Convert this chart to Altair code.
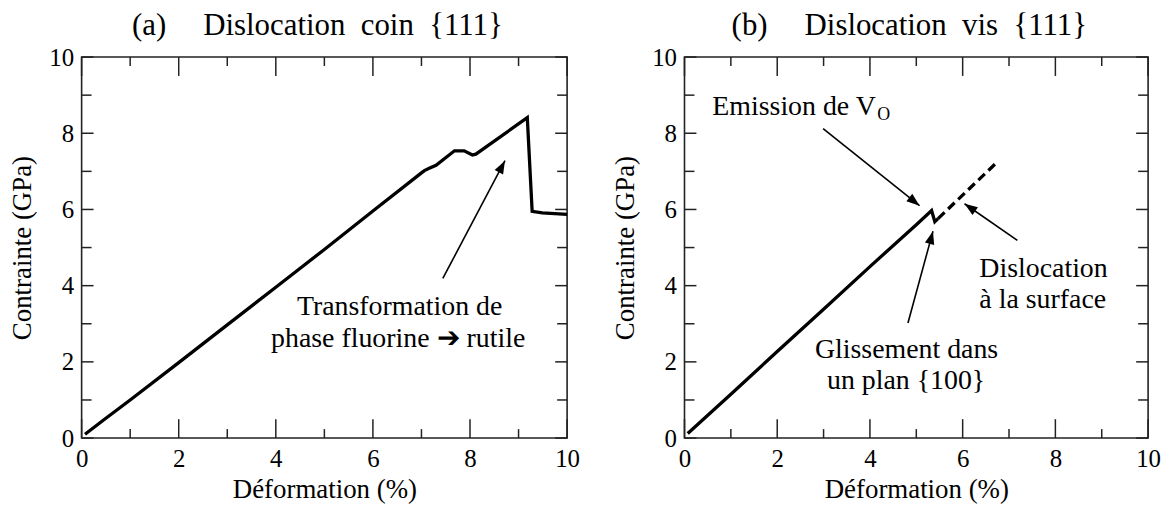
import altair as alt
import pandas as pd
import numpy as np

FONT = "Liberation Serif"
W_A, W_B, H = 488, 466, 383
FRAME = "#222222"

major_ticks = [0, 2, 4, 6, 8, 10]
minor_ticks = [1, 3, 5, 7, 9]

# Panel (a) : Dislocation coin {111}
a_x = [0.07, 0.5, 1, 2, 3, 4, 5, 6, 7, 7.06, 7.16, 7.3, 7.68, 7.88, 8.05, 8.12, 9.18, 9.28, 9.49, 10]
a_y = [0.10, 0.52, 1.0, 1.98, 2.97, 3.96, 4.95, 5.96, 6.96, 7.02, 7.08, 7.16, 7.54, 7.54, 7.43, 7.45, 8.41, 5.95, 5.91, 5.87]

# Panel (b) : Dislocation vis {111}
b_solid_x = [0.07, 1, 2, 3, 4, 5, 5.33, 5.40, 5.47]
b_solid_y = [0.12, 1.15, 2.27, 3.38, 4.50, 5.60, 5.97, 5.68, 5.76]
b_dash_x = [5.47, 6.75]
b_dash_y = [5.76, 7.25]

# arrows (tail -> head)
a_arrow_tx, a_arrow_ty = [7.44], [4.19]
a_arrow_hx, a_arrow_hy = [8.72], [7.28]
b_arrow_tx = [2.99, 4.82, 7.18]
b_arrow_ty = [8.12, 3.02, 5.19]
b_arrow_hx = [5.07, 5.36, 6.04]
b_arrow_hy = [6.10, 5.43, 6.15]

# annotations
a_text_c = ["Transformation de", "phase fluorine \u2794 rutile"]
a_text_c_x = [6.55, 6.52]
a_text_c_y = [3.24, 2.40]

b_text_l = ["Emission de V", "Dislocation", "\u00e0 la surface"]
b_text_l_x = [0.60, 6.36, 6.36]
b_text_l_y = [8.49, 4.23, 3.41]
b_text_c = ["Glissement dans", "un plan {100}"]
b_text_c_x = [4.79, 4.78]
b_text_c_y = [2.09, 1.30]
b_sub = ["O"]
b_sub_x = [4.16]
b_sub_y = [8.36]

xs = alt.Scale(domain=[0, 10], nice=False, zero=False)
ys = alt.Scale(domain=[0, 10], nice=False, zero=False)

XA = alt.Axis(values=major_ticks, title="D\u00e9formation (%)", domain=False, ticks=False, grid=False,
              labelFlush=False, labelOverlap=False, labelPadding=9, titlePadding=5)
YA = alt.Axis(values=major_ticks, title="Contrainte (GPa)", domain=False, ticks=False, grid=False,
              labelFlush=False, labelOverlap=False, labelPadding=8, titlePadding=12)

ARROW_PATH = "M0,0 L-0.42,1.15 L0.42,1.15 Z"


def X(field):
    return alt.X(field, type="quantitative", scale=xs, axis=XA)


def Y(field):
    return alt.Y(field, type="quantitative", scale=ys, axis=YA)


def tick_layers(width):
    layers = []
    for vals, xlen, ylen in [(major_ticks, 19, 12), (minor_ticks, 9, 10)]:
        d = pd.DataFrame({"v": vals})
        b = alt.Chart(d).mark_rule(color=FRAME, strokeWidth=1.5)
        layers.append(b.encode(x=X("v"), y=alt.value(H), y2=alt.value(H - xlen)))
        layers.append(b.encode(x=X("v"), y=alt.value(0), y2=alt.value(xlen)))
        layers.append(b.encode(y=Y("v"), x=alt.value(0), x2=alt.value(ylen)))
        layers.append(b.encode(y=Y("v"), x=alt.value(width), x2=alt.value(width - ylen)))
    return layers


def arrow_layers(width, tx, ty, hx, hy):
    tx, ty, hx, hy = map(np.array, (tx, ty, hx, hy))
    ang = np.degrees(np.arctan2((hx - tx) * width / 10.0, (hy - ty) * H / 10.0)) % 360
    d = pd.DataFrame({"tx": tx, "ty": ty, "hx": hx, "hy": hy, "ang": ang})
    line = alt.Chart(d).mark_rule(color="black", strokeWidth=1.6).encode(
        x=X("tx"), y=Y("ty"), x2="hx:Q", y2="hy:Q")
    head = alt.Chart(d).mark_point(shape=ARROW_PATH, filled=True, size=520, color="black", opacity=1,
                                   strokeWidth=0).encode(
        x=X("hx"), y=Y("hy"), angle=alt.Angle("ang:Q", scale=None))
    return [line, head]


def text_layer(labels, x, y, align, size=28):
    d = pd.DataFrame({"t": labels, "x": x, "y": y})
    return alt.Chart(d).mark_text(font=FONT, fontSize=size, align=align, baseline="alphabetic",
                                  color="black").encode(x=X("x"), y=Y("y"), text="t:N")


def curve_layer(x, y, dash=None):
    d = pd.DataFrame({"x": x, "y": y, "o": range(len(x))})
    kw = dict(color="black", strokeWidth=3.3, strokeJoin="miter", strokeCap="butt")
    if dash:
        kw["strokeDash"] = dash
    return alt.Chart(d).mark_line(**kw).encode(x=X("x"), y=Y("y"), order="o:Q")


title_a = alt.Title("(a)\u2003\u2009Dislocation\u2002coin\u2002{111}", anchor="middle", offset=3, dx=-7)
title_b = alt.Title("(b)\u2003\u2009Dislocation\u2002vis\u2002{111}", anchor="middle", offset=3, dx=-7)

panel_a = alt.layer(
    curve_layer(a_x, a_y),
    *tick_layers(W_A),
    *arrow_layers(W_A, a_arrow_tx, a_arrow_ty, a_arrow_hx, a_arrow_hy),
    text_layer(a_text_c, a_text_c_x, a_text_c_y, "center"),
).properties(width=W_A, height=H, title=title_a)

panel_b = alt.layer(
    curve_layer(b_solid_x, b_solid_y),
    curve_layer(b_dash_x, b_dash_y, dash=[9, 5]),
    *tick_layers(W_B),
    *arrow_layers(W_B, b_arrow_tx, b_arrow_ty, b_arrow_hx, b_arrow_hy),
    text_layer(b_text_l, b_text_l_x, b_text_l_y, "left"),
    text_layer(b_text_c, b_text_c_x, b_text_c_y, "center"),
    text_layer(b_sub, b_sub_x, b_sub_y, "left", size=18),
).properties(width=W_B, height=H, title=title_b)

chart = alt.hconcat(panel_a, panel_b, spacing=118, bounds="flush").properties(
    padding={"left": 0, "top": 0, "right": 5, "bottom": 5}
).configure_view(
    stroke=FRAME, strokeWidth=1.6
).configure_axis(
    labelFont=FONT, labelFontSize=25, labelColor="black",
    titleFont=FONT, titleFontSize=27, titleFontWeight="normal", titleColor="black"
).configure_title(
    font=FONT, fontSize=31, fontWeight="normal", color="black"
)

chart.save("out.html", embed_options={"renderer": "svg", "actions": False})
